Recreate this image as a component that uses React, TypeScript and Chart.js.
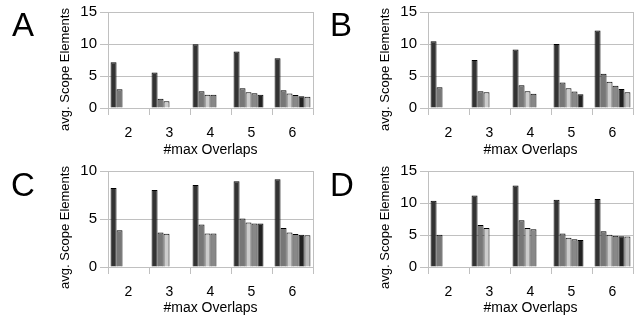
import React, { useEffect, useRef } from 'react';
import { Chart, registerables } from 'chart.js';

Chart.register(...registerables);

// ---- data ----
const categories = ['2', '3', '4', '5', '6'];
const xTitle = '#max Overlaps';
const yTitle = 'avg. Scope Elements';
const seriesColors = ['#333333', '#777777', '#cccccc', '#888888', '#222222', '#bbbbbb'];

// Panel A
const A1 = [7.14, 5.55, 9.98, 8.83, 7.76];
const A2 = [2.93, 1.45, 2.6, 3.08, 2.77];
const A3 = [null, 1.05, 2.08, 2.45, 2.25];
const A4 = [null, null, 2.08, 2.3, 2.03];
const A5 = [null, null, null, 2.08, 1.83];
const A6 = [null, null, null, null, 1.75];

// Panel B
const B1 = [10.43, 7.5, 9.14, 10.0, 12.12];
const B2 = [3.24, 2.62, 3.54, 4.0, 5.34];
const B3 = [null, 2.47, 2.62, 3.08, 4.11];
const B4 = [null, null, 2.21, 2.57, 3.49];
const B5 = [null, null, null, 2.16, 2.98];
const B6 = [null, null, null, null, 2.47];

// Panel C
const C1 = [8.24, 8.03, 8.55, 8.93, 9.13];
const C2 = [3.84, 3.6, 4.43, 5.05, 4.05];
const C3 = [null, 3.46, 3.49, 4.64, 3.6];
const C4 = [null, null, 3.49, 4.53, 3.43];
const C5 = [null, null, null, 4.53, 3.36];
const C6 = [null, null, null, null, 3.32];

// Panel D
const D1 = [10.36, 11.19, 12.75, 10.52, 10.62];
const D2 = [5.03, 6.58, 7.3, 5.23, 5.6];
const D3 = [null, 6.11, 6.11, 4.56, 5.03];
const D4 = [null, null, 5.9, 4.35, 4.87];
const D5 = [null, null, null, 4.2, 4.82];
const D6 = [null, null, null, null, 4.77];

const yMaxAB = 15;
const yMaxC = 10;
const yMaxD = 15;
const yStep = 5;

// ---- styling ----
const FONT = "'Liberation Sans', Arial, Helvetica, sans-serif";
const GRID = '#c0c0c0';

const framePlugin = {
  id: 'frameRight',
  beforeDatasetsDraw(chart: any) {
    const { ctx, chartArea } = chart;
    const x = Math.round(chartArea.right) + 0.5;
    ctx.save();
    ctx.strokeStyle = GRID;
    ctx.lineWidth = 1;
    ctx.beginPath();
    ctx.moveTo(x, chartArea.top);
    ctx.lineTo(x, chartArea.bottom);
    ctx.stroke();
    ctx.restore();
  },
};

// y-axis title, drawn as text but placed like the reference (slightly below the axis centre)
const yTitlePlugin = {
  id: 'yTitleText',
  afterDraw(chart: any, _args: any, opts: any) {
    const { ctx } = chart;
    ctx.save();
    ctx.translate(opts.x, opts.y);
    ctx.rotate(-Math.PI / 2);
    ctx.font = `13px ${FONT}`;
    ctx.fillStyle = '#000';
    ctx.textAlign = 'center';
    ctx.textBaseline = 'middle';
    ctx.fillText(opts.text, 0, 0);
    ctx.restore();
  },
};

type PanelProps = {
  letter: string;
  series: (number | null)[][];
  yMax: number;
  left: number;
  top: number;
  height: number;
  titlePadBottom: number;
  yTitleY: number;
  letterLeft: number;
  letterTop: number;
};

function Panel({ letter, series, yMax, left, top, height, titlePadBottom, yTitleY, letterLeft, letterTop }: PanelProps) {
  const ref = useRef<HTMLCanvasElement | null>(null);
  useEffect(() => {
    if (!ref.current) return;
    const chart = new Chart(ref.current, {
      type: 'bar',
      data: {
        labels: categories,
        datasets: series.map((d, i) => ({
          data: d,
          backgroundColor: seriesColors[i],
          borderColor: '#000000',
          borderWidth: 1,
          categoryPercentage: 0.875,
          barPercentage: 1,
        })),
      },
      options: {
        responsive: false,
        maintainAspectRatio: false,
        animation: false,
        layout: { padding: { top: 11, right: 7, bottom: 0, left: 0 } },
        plugins: {
          legend: { display: false },
          tooltip: { enabled: false },
          yTitleText: { text: yTitle, x: 65, y: yTitleY },
        },
        scales: {
          x: {
            type: 'category',
            offset: true,
            grid: {
              display: true,
              drawOnChartArea: false,
              drawTicks: true,
              tickLength: 7,
              color: GRID,
              offset: true,
            },
            border: { display: true, color: GRID },
            ticks: {
              color: '#000',
              font: { family: FONT, size: 14 },
              padding: 10,
              maxRotation: 0,
              autoSkip: false,
            },
            title: {
              display: true,
              text: xTitle,
              color: '#000',
              font: { family: FONT, size: 14 },
              padding: { top: 0, bottom: titlePadBottom },
            },
            afterFit: (s: any) => {
              s.height = height - 108;
            },
          },
          y: {
            min: 0,
            max: yMax,
            ticks: {
              stepSize: yStep,
              color: '#000',
              font: { family: FONT, size: 15 },
              padding: 3,
            },
            grid: { color: GRID, tickLength: 8 },
            border: { display: true, color: GRID },
            title: { display: false },
            afterFit: (s: any) => {
              s.width = 108;
            },
          },
        },
      },
      plugins: [framePlugin, yTitlePlugin],
    } as any);
    return () => chart.destroy();
  }, []);

  return (
    <div style={{ position: 'absolute', left, top, width: 320, height }}>
      <canvas ref={ref} width={320} height={height} style={{ display: 'block', width: 320, height }} />
      <div
        style={{
          position: 'absolute',
          left: letterLeft,
          top: letterTop,
          fontFamily: FONT,
          fontSize: 33,
          lineHeight: 1,
          color: '#000',
        }}
      >
        {letter}
      </div>
    </div>
  );
}

export default function App() {
  return (
    <div
      style={{
        position: 'absolute',
        left: 0,
        top: 0,
        width: 639,
        height: 321,
        background: '#ffffff',
        overflow: 'hidden',
      }}
    >
      <Panel letter="A" series={[A1, A2, A3, A4, A5, A6]} yMax={yMaxAB} left={0} top={0} height={160} titlePadBottom={1} yTitleY={69.5} letterLeft={12} letterTop={8.4} />
      <Panel letter="B" series={[B1, B2, B3, B4, B5, B6]} yMax={yMaxAB} left={320} top={0} height={160} titlePadBottom={1} yTitleY={69.5} letterLeft={10} letterTop={8.4} />
      <Panel letter="C" series={[C1, C2, C3, C4, C5, C6]} yMax={yMaxC} left={0} top={159} height={162} titlePadBottom={4.5} yTitleY={68.5} letterLeft={11} letterTop={9.4} />
      <Panel letter="D" series={[D1, D2, D3, D4, D5, D6]} yMax={yMaxD} left={320} top={159} height={162} titlePadBottom={4.5} yTitleY={68.5} letterLeft={10} letterTop={9.4} />
    </div>
  );
}
